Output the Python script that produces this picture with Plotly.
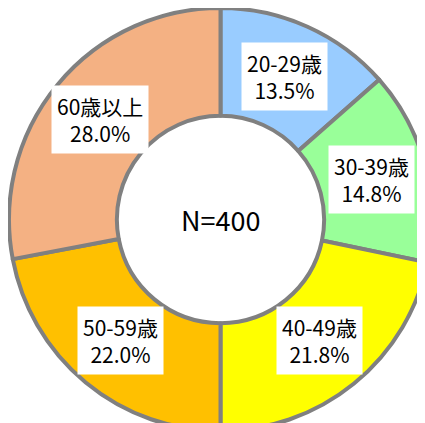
import math
import plotly.graph_objects as go

categories = ["20-29歳", "30-39歳", "40-49歳", "50-59歳", "60歳以上"]
counts = [54, 59, 87, 88, 112]
percent_labels = ["13.5%", "14.8%", "21.8%", "22.0%", "28.0%"]
colors = ["#99ccff", "#99ff99", "#ffff00", "#ffc000", "#f4b183"]
center_text = "N=400"

W, H = 425, 423
HOLE = 0.49
FONT = "Noto Sans CJK JP, sans-serif"

fig = go.Figure(go.Pie(
    labels=categories,
    values=counts,
    sort=False,
    direction="clockwise",
    rotation=0,
    hole=HOLE,
    textinfo="none",
    hoverinfo="label+percent",
    marker=dict(colors=colors, line=dict(color="#808080", width=4)),
    showlegend=False,
    domain=dict(x=[0, 1], y=[0, 1]),
))

# label boxes placed at the middle of each ring segment
total = sum(counts)
R = min(W, H) / 2.0
r_lab = R * 0.74
cum = 0
annotations = []
for cat, c, p in zip(categories, counts, percent_labels):
    mid = (cum + c / 2.0) / total * 2 * math.pi
    cum += c
    x = 0.5 + r_lab * math.sin(mid) / W
    y = 0.5 + r_lab * math.cos(mid) / H
    annotations.append(dict(
        x=x, y=y, xref="paper", yref="paper", showarrow=False,
        xanchor="center", yanchor="middle",
        text=f"{cat}<br>{p}", align="center",
        font=dict(family=FONT, size=21, color="#000000"),
        bgcolor="#ffffff", borderpad=5,
    ))

annotations.append(dict(
    x=0.5, y=0.5, xref="paper", yref="paper", showarrow=False,
    xanchor="center", yanchor="middle",
    text=center_text, font=dict(family=FONT, size=27, color="#000000"),
))

fig.update_layout(
    width=W, height=H,
    margin=dict(l=0, r=0, t=0, b=0),
    paper_bgcolor="#ffffff",
    annotations=annotations,
)

fig.write_html("out.html")
